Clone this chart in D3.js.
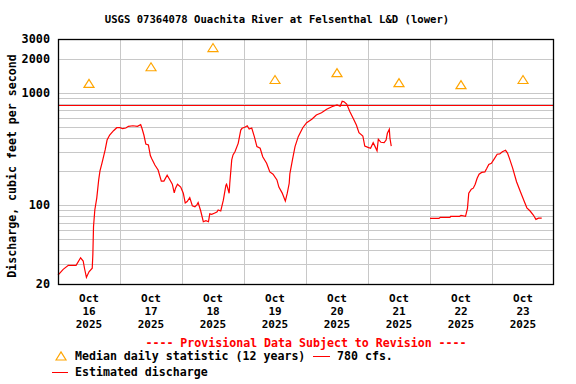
<!DOCTYPE html>
<html><head><meta charset="utf-8">
<script src="https://cdn.jsdelivr.net/npm/d3@7"></script>
<style>
html,body{margin:0;padding:0;background:#fff;}
svg text{font-family:"DejaVu Sans Mono",monospace;font-weight:bold;}
</style></head>
<body><svg id="c" width="576" height="384"></svg>
<script>
const title = "USGS 07364078 Ouachita River at Felsenthal L&D (lower)";
const yTickValues = [20, 100, 1000, 2000, 3000];
const yGridValues = [30,40,50,60,70,80,90,100,200,300,400,500,600,700,800,900,1000,2000];
const dayLabels = ["16","17","18","19","20","21","22","23"];
const medianDays = ["2025-10-16","2025-10-17","2025-10-18","2025-10-19","2025-10-20","2025-10-21","2025-10-22","2025-10-23"];
const medianValues = [1210, 1700, 2520, 1310, 1510, 1230, 1180, 1310];
const medianFlow = 780;

const seg1Times = ["10-16 00:00","10-16 02:00","10-16 04:00","10-16 07:00","10-16 08:45","10-16 09:45","10-16 10:15","10-16 11:00","10-16 12:00","10-16 13:15","10-16 13:30","10-16 13:45","10-16 14:15","10-16 15:00","10-16 15:45","10-16 16:15","10-16 17:00","10-16 18:15","10-16 19:00","10-16 20:00","10-16 21:30","10-16 22:45",
"10-17 00:00","10-17 01:00","10-17 02:15","10-17 03:15","10-17 05:00","10-17 06:45","10-17 08:00","10-17 08:30","10-17 09:15","10-17 10:00","10-17 11:00","10-17 11:45","10-17 12:15","10-17 13:30","10-17 14:45","10-17 16:00","10-17 17:00","10-17 18:15","10-17 19:30","10-17 20:15","10-17 21:00","10-17 21:30","10-17 22:15","10-17 23:30",
"10-18 00:30","10-18 01:15","10-18 02:00","10-18 03:00","10-18 04:00","10-18 05:00","10-18 05:45","10-18 06:15","10-18 07:15","10-18 08:15","10-18 09:15","10-18 10:15","10-18 10:45","10-18 11:30","10-18 12:30","10-18 13:30","10-18 14:00","10-18 15:00","10-18 16:00","10-18 17:00","10-18 17:15","10-18 18:15","10-18 18:30","10-18 19:15","10-18 19:45","10-18 20:30","10-18 21:45","10-18 22:45","10-18 23:15",
"10-19 00:30","10-19 01:15","10-19 02:00","10-19 03:00","10-19 04:00","10-19 05:00","10-19 06:15","10-19 07:15","10-19 08:45","10-19 10:00","10-19 11:15","10-19 12:45","10-19 13:30","10-19 14:45","10-19 16:00","10-19 16:45","10-19 17:30","10-19 17:45","10-19 18:45","10-19 19:45","10-19 21:00","10-19 22:45",
"10-20 00:15","10-20 02:15","10-20 04:00","10-20 06:00","10-20 08:00","10-20 10:00","10-20 12:00","10-20 13:15","10-20 14:00","10-20 14:45","10-20 15:45","10-20 17:00","10-20 18:15","10-20 19:30","10-20 20:30","10-20 22:00","10-20 22:45",
"10-21 00:00","10-21 01:00","10-21 02:00","10-21 02:45","10-21 03:30","10-21 04:00","10-21 05:00","10-21 06:15","10-21 07:00","10-21 07:30","10-21 08:15","10-21 08:30","10-21 09:00"];
const seg1Values = [24.0,27.0,29.3,29.3,34.2,32.0,27.6,22.9,25.7,27.6,36.9,64.8,90.8,116,168,202,236,310,380,421,460,489,
489,479,486,503,509,503,520,483,421,350,343,277,261,228,206,164,164,185,165,154,129,142,154,145,
128,105,108,117,99,97,101,106,89,71.5,73,71.5,84,83,85,87,91,89,111,151,154,128,157,253,280,299,355,466,483,
496,509,476,486,407,332,321,270,236,198,189,168,145,129,109,128,157,190,253,332,407,489,
542,581,634,664,712,751,778,757,839,831,794,678,593,517,441,413,336,
327,321,360,332,305,386,363,360,380,436,473,394,336];

const seg2Times = ["10-22 00:00","10-22 03:30","10-22 04:00","10-22 07:45","10-22 08:00","10-22 11:30","10-22 12:00","10-22 13:45","10-22 14:30","10-22 15:00","10-22 16:00","10-22 16:45","10-22 17:30","10-22 18:15","10-22 19:00","10-22 20:00","10-22 21:15","10-22 22:00","10-22 22:45","10-22 23:45",
"10-23 00:45","10-23 02:00","10-23 03:00","10-23 04:00","10-23 05:15","10-23 06:00","10-23 06:45","10-23 08:00","10-23 09:30","10-23 11:00","10-23 12:30","10-23 13:30","10-23 14:45","10-23 16:00","10-23 17:00","10-23 18:00","10-23 19:15"];
const seg2Values = [76.6,76.6,78.2,78.2,79.9,79.9,81.5,79.9,94,128,139,142,154,174,189,196,198,213,231,236,
256,284,286,299,308,291,261,214,162,132,108,95,89,82,75,76.9,76.9];

const parseT = d3.timeParse("%Y-%m-%d %H:%M");
const seg1 = seg1Times.map((t,i)=>({t:parseT("2025-"+t), v:seg1Values[i]}));
const seg2 = seg2Times.map((t,i)=>({t:parseT("2025-"+t), v:seg2Values[i]}));

const L=58, R=554, T=39, B=284;
const x = d3.scaleTime().domain([parseT("2025-10-16 00:00"), parseT("2025-10-24 00:00")]).range([L,R]);
const y = d3.scaleLog().domain([20,3000]).range([B,T]);

const svg = d3.select("#c");

// title
svg.append("text").attr("x",277).attr("y",23).attr("text-anchor","middle")
  .attr("font-size","10.6px").attr("fill","#000").text(title);

// horizontal grid
svg.append("g").selectAll("line").data(yGridValues).join("line")
  .attr("x1",L).attr("x2",R).attr("y1",d=>Math.round(y(d))+0.5).attr("y2",d=>Math.round(y(d))+0.5)
  .attr("stroke","#c8c8c8").attr("stroke-width",1);

// vertical grid at midnights
const mids = d3.timeDay.range(parseT("2025-10-17 00:00"), parseT("2025-10-24 00:00"));
svg.append("g").selectAll("line").data(mids).join("line")
  .attr("x1",d=>Math.round(x(d))+0.5).attr("x2",d=>Math.round(x(d))+0.5).attr("y1",T).attr("y2",B)
  .attr("stroke","#c8c8c8").attr("stroke-width",1);

// median flow line
svg.append("line").attr("x1",L).attr("x2",R).attr("y1",Math.round(y(medianFlow))+0.5).attr("y2",Math.round(y(medianFlow))+0.5)
  .attr("stroke","#ff0000").attr("stroke-width",1);

// discharge
const line = d3.line().x(d=>x(d.t)).y(d=>y(d.v));
[seg1, seg2].forEach(s=>{
  svg.append("path").datum(s).attr("d",line).attr("fill","none")
    .attr("stroke","#ff0000").attr("stroke-width",1.2);
});

// median triangles
const tri = (cx,cy)=>`M${cx-5},${cy+4}L${cx},${cy-4}L${cx+5},${cy+4}Z`;
svg.append("g").selectAll("path").data(medianDays).join("path")
  .attr("d",(d,i)=>tri(x(parseT(d+" 12:00")), y(medianValues[i])))
  .attr("fill","none").attr("stroke","#ffa500").attr("stroke-width",1.2);

// frame
svg.append("rect").attr("x",L+0.5).attr("y",T+0.5).attr("width",R-L-1).attr("height",B-T)
  .attr("fill","none").attr("stroke","#000").attr("stroke-width",1.3);

// y tick labels
svg.append("g").selectAll("text").data(yTickValues).join("text")
  .attr("x",50).attr("y",d=>y(d)+4).attr("text-anchor","end").attr("font-size","11.8px").text(d=>d);

// y axis title
svg.append("text").attr("transform","translate(16,166) rotate(-90)").attr("text-anchor","middle")
  .attr("font-size","11.6px").text("Discharge, cubic feet per second");

// x tick labels
const xl = svg.append("g").selectAll("text").data(medianDays).join("text")
  .attr("text-anchor","middle").attr("font-size","11px");
xl.each(function(d,i){
  const cx = x(parseT(d+" 12:00"));
  const t = d3.select(this);
  t.append("tspan").attr("x",cx).attr("y",302).text("Oct");
  t.append("tspan").attr("x",cx).attr("y",315).text(dayLabels[i]);
  t.append("tspan").attr("x",cx).attr("y",328).text("2025");
});

// provisional note
svg.append("text").attr("x",306).attr("y",347).attr("text-anchor","middle").attr("font-size","11.6px")
  .attr("fill","#ff0000").text("---- Provisional Data Subject to Revision ----");

// legend
svg.append("path").attr("d",tri(61,356)).attr("fill","none").attr("stroke","#ffa500").attr("stroke-width",1.2);
svg.append("text").attr("x",75).attr("y",360).attr("font-size","11.6px").text("Median daily statistic (12 years)");
svg.append("line").attr("x1",313).attr("x2",330).attr("y1",356.5).attr("y2",356.5).attr("stroke","#ff0000");
svg.append("text").attr("x",337).attr("y",360).attr("font-size","11.6px").text(medianFlow+" cfs.");
svg.append("line").attr("x1",52).attr("x2",68).attr("y1",372.5).attr("y2",372.5).attr("stroke","#ff0000");
svg.append("text").attr("x",75).attr("y",376).attr("font-size","11.6px").text("Estimated discharge");
</script></body></html>
